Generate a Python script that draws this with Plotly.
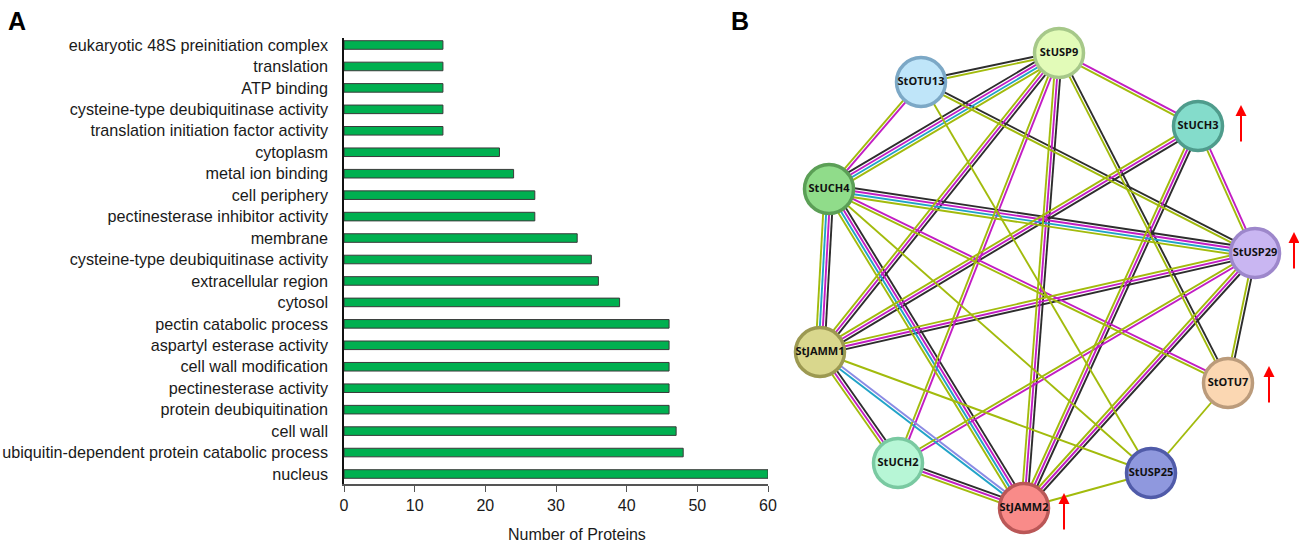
import math
import plotly.graph_objects as go

# ---------------- Panel A data ----------------
go_terms = [
    "eukaryotic 48S preinitiation complex",
    "translation",
    "ATP binding",
    "cysteine-type deubiquitinase activity",
    "translation initiation factor activity",
    "cytoplasm",
    "metal ion binding",
    "cell periphery",
    "pectinesterase inhibitor activity",
    "membrane",
    "cysteine-type deubiquitinase activity",
    "extracellular region",
    "cytosol",
    "pectin catabolic process",
    "aspartyl esterase activity",
    "cell wall modification",
    "pectinesterase activity",
    "protein deubiquitination",
    "cell wall",
    "ubiquitin-dependent protein catabolic process",
    "nucleus",
]
protein_counts = [14, 14, 14, 14, 14, 22, 24, 27, 27, 33, 35, 36, 39,
                  46, 46, 46, 46, 46, 47, 48, 60]
x_ticks = [0, 10, 20, 30, 40, 50, 60]

# ---------------- Panel B data ----------------
node_names = ["StUSP9", "StOTU13", "StUCH3", "StUCH4", "StUSP29",
              "StJAMM1", "StOTU7", "StUCH2", "StUSP25", "StJAMM2"]
upregulated = ["StUCH3", "StUSP29", "StOTU7", "StJAMM2"]
# edges: (node a, node b, evidence channels)
# k = black, m = magenta, c = cyan, g = yellow-green, b = blue-violet
edges = [
    ("StUSP9", "StOTU13", "gk"),
    ("StUSP9", "StUCH3", "mg"),
    ("StUSP9", "StUCH4", "gcmk"),
    ("StUSP9", "StJAMM1", "kmg"),
    ("StUSP9", "StUCH2", "mg"),
    ("StUSP9", "StJAMM2", "kmg"),
    ("StUSP9", "StOTU7", "kg"),
    ("StOTU13", "StUCH4", "mg"),
    ("StOTU13", "StUSP29", "kg"),
    ("StOTU13", "StUSP25", "g"),
    ("StUCH3", "StUSP29", "mg"),
    ("StUCH3", "StJAMM1", "kmg"),
    ("StUCH3", "StJAMM2", "kmg"),
    ("StUCH4", "StUSP29", "kmcg"),
    ("StUCH4", "StJAMM1", "kmcg"),
    ("StUCH4", "StJAMM2", "kmcg"),
    ("StUCH4", "StOTU7", "mg"),
    ("StUCH4", "StUSP25", "g"),
    ("StUSP29", "StJAMM1", "kmg"),
    ("StUSP29", "StUCH2", "mg"),
    ("StUSP29", "StJAMM2", "kmg"),
    ("StUSP29", "StOTU7", "kg"),
    ("StJAMM1", "StUCH2", "kmg"),
    ("StJAMM1", "StJAMM2", "bc"),
    ("StJAMM1", "StUSP25", "g"),
    ("StUCH2", "StJAMM2", "kmg"),
    ("StJAMM2", "StUSP25", "g"),
    ("StOTU7", "StUSP25", "g"),
]

# ---------------- network layout & styles ----------------
node_layout = {
    "StUSP9": (1059, 53), "StOTU13": (921, 82), "StUCH3": (1198, 126),
    "StUCH4": (829, 189), "StUSP29": (1255, 253), "StJAMM1": (820, 352),
    "StOTU7": (1228, 383), "StUCH2": (898, 463), "StUSP25": (1151, 473),
    "StJAMM2": (1024, 508),
}
node_fill = {
    "StUSP9": "#e2fbb8", "StOTU13": "#bfe5f9", "StUCH3": "#84dccb",
    "StUCH4": "#90dc8a", "StUSP29": "#c9b6f2", "StJAMM1": "#d9d78d",
    "StOTU7": "#fbd7b2", "StUCH2": "#b7f6d6", "StUSP25": "#8f98de",
    "StJAMM2": "#f98b89",
}
node_border = {
    "StUSP9": "#a6c889", "StOTU13": "#7ca8c6", "StUCH3": "#4f9c8c",
    "StUCH4": "#5b9f56", "StUSP29": "#9d87cb", "StJAMM1": "#9c9951",
    "StOTU7": "#bb9b7b", "StUCH2": "#79c9a1", "StUSP25": "#505ba9",
    "StJAMM2": "#ba5757",
}
channel_color = {"k": "#2d2d2d", "m": "#c21dc4", "c": "#21a3c8",
                 "g": "#a2bb0c", "b": "#8b8be4"}

W, H = 1299, 543
fig = go.Figure()

# ---------------- Panel A bars ----------------
ypos = list(range(len(go_terms)))
fig.add_trace(go.Bar(
    x=protein_counts, y=ypos, orientation="h", width=0.4,
    marker=dict(color="#00b050", line=dict(color="#3a3a3a", width=1)),
    xaxis="x", yaxis="y", showlegend=False, hoverinfo="x+text",
    hovertext=go_terms,
))

# ---------------- Panel B edges ----------------
spacing = 3.0
lines_by_channel = {k: ([], []) for k in channel_color}
for a, b, ch in edges:
    x0, y0 = node_layout[a]
    x1, y1 = node_layout[b]
    dx, dy = x1 - x0, y1 - y0
    L = math.hypot(dx, dy)
    px, py = -dy / L, dx / L
    n = len(ch)
    for i, c in enumerate(ch):
        off = (i - (n - 1) / 2) * spacing
        xs, ys = lines_by_channel[c]
        xs += [x0 + px * off, x1 + px * off, None]
        ys += [y0 + py * off, y1 + py * off, None]
for c, (xs, ys) in lines_by_channel.items():
    if xs:
        fig.add_trace(go.Scatter(
            x=xs, y=ys, mode="lines", xaxis="x2", yaxis="y2",
            line=dict(color=channel_color[c], width=1.9),
            hoverinfo="skip", showlegend=False,
        ))

# ---------------- Panel B nodes ----------------
fig.add_trace(go.Scatter(
    x=[node_layout[n][0] for n in node_names],
    y=[node_layout[n][1] for n in node_names],
    mode="markers+text", xaxis="x2", yaxis="y2",
    marker=dict(size=49, color=[node_fill[n] for n in node_names],
                line=dict(color=[node_border[n] for n in node_names], width=3.5)),
    text=["<b>%s</b>" % n for n in node_names],
    textposition="middle center",
    textfont=dict(family="Open Sans, Arial, sans-serif", size=11, color="#111111"),
    showlegend=False, hoverinfo="text", cliponaxis=False,
))

# red arrows next to up-regulated nodes
arrow_offsets = {"StUCH3": (43, -21), "StUSP29": (39, -21),
                 "StOTU7": (41, -17), "StJAMM2": (40, -15)}
annotations = []
for n in upregulated:
    cx, cy = node_layout[n]
    ox, oy = arrow_offsets[n]
    annotations.append(dict(
        x=cx + ox, y=cy + oy, ax=cx + ox, ay=cy + oy + 38,
        xref="x2", yref="y2", axref="x2", ayref="y2",
        showarrow=True, arrowhead=2, arrowsize=1.1, arrowwidth=2,
        arrowcolor="#ff0000", text="", standoff=0,
    ))

# panel labels and x title
annotations += [
    dict(text="<b>A</b>", x=6 / W, y=1 - 5 / H, xref="paper", yref="paper",
         xanchor="left", yanchor="top", showarrow=False,
         font=dict(family="Liberation Sans, Arial", size=25, color="#000")),
    dict(text="<b>B</b>", x=729 / W, y=1 - 5 / H, xref="paper", yref="paper",
         xanchor="left", yanchor="top", showarrow=False,
         font=dict(family="Liberation Sans, Arial", size=25, color="#000")),
    dict(text="Number of Proteins", x=577 / W, y=1 - 534 / H, xref="paper",
         yref="paper", xanchor="center", yanchor="middle", showarrow=False,
         font=dict(family="Liberation Sans, Arial", size=16, color="#1a1a1a")),
]

pitch = 21.45
r0 = -7 / pitch
r1 = r0 + 446 / pitch

fig.update_layout(
    width=W, height=H, margin=dict(l=0, r=0, t=0, b=0),
    paper_bgcolor="white", plot_bgcolor="rgba(0,0,0,0)",
    font=dict(family="Liberation Sans, Arial", color="#1a1a1a"),
    xaxis=dict(domain=[344 / W, 768 / W], range=[0, 60], tickvals=x_ticks,
               showgrid=False, zeroline=False, showline=True,
               linecolor="#555555", linewidth=1.5, ticks="outside",
               ticklen=6, tickcolor="#555555", tickfont=dict(size=16),
               anchor="y", automargin=False, fixedrange=True),
    yaxis=dict(domain=[1 - 484 / H, 1 - 38 / H], range=[r1, r0],
               tickvals=ypos, ticktext=go_terms, showgrid=False,
               zeroline=False, showline=True, linecolor="#111111",
               linewidth=1.5, ticks="", tickfont=dict(size=16.2),
               ticklabelstandoff=11, anchor="x", automargin=False,
               fixedrange=True),
    xaxis2=dict(domain=[780 / W, 1.0], range=[780, W], visible=False,
                anchor="y2", fixedrange=True),
    yaxis2=dict(domain=[0, 1], range=[H, 0], visible=False,
                anchor="x2", fixedrange=True),
    annotations=annotations,
    bargap=0.6,
)

fig.write_html(
    "out.html",
    config={"displayModeBar": False},
    post_script="document.body.style.margin='0px';document.body.style.overflow='hidden';",
)
